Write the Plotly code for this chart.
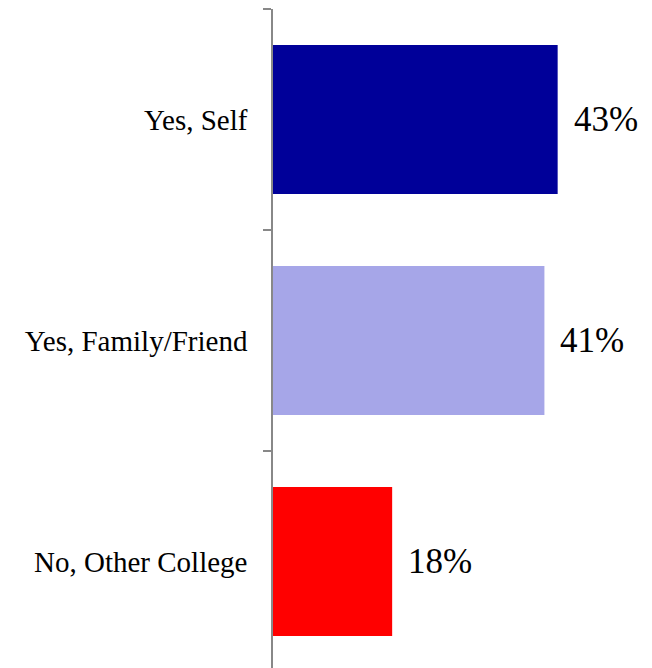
import plotly.graph_objects as go

categories = ["No, Other College", "Yes, Family/Friend", "Yes, Self"]
values = [18, 41, 43]
labels = ["18%", "41%", "43%"]
colors = ["#FF0000", "#A6A6E8", "#000099"]

fig = go.Figure()
fig.add_trace(go.Bar(
    y=categories, x=values, orientation="h",
    marker=dict(color=colors, line=dict(width=0)),
    width=0.675, hoverinfo="skip",
))
for c, v, t in zip(categories, values, labels):
    fig.add_annotation(x=v, y=c, text=t, showarrow=False, xanchor="left",
                       yanchor="middle", xshift=14,
                       font=dict(family="Liberation Serif", size=35, color="#000000"))

fig.update_layout(
    width=644, height=660,
    margin=dict(l=265, r=0, t=1, b=0),
    paper_bgcolor="white", plot_bgcolor="white",
    showlegend=False,
    font=dict(family="Liberation Serif", color="#000000"),
    xaxis=dict(range=[0, 57.25], visible=False, fixedrange=True),
    yaxis=dict(
        type="category", categoryorder="array", categoryarray=categories,
        range=[-0.482, 2.5], tickson="boundaries",
        ticks="outside", ticklen=8, tickwidth=1.5, tickcolor="#888888",
        showline=True, linecolor="#888888", linewidth=1.5,
        showgrid=False, zeroline=False,
        tickfont=dict(family="Liberation Serif", size=29, color="#000000"),
        ticklabelstandoff=18,
    ),
)
fig.write_html("out.html")
